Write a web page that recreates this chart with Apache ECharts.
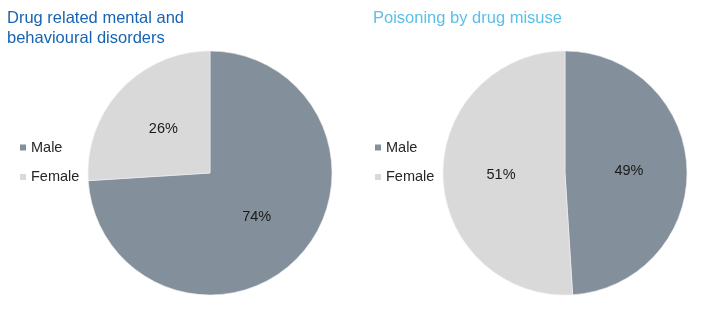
<!DOCTYPE html>
<html>
<head>
<meta charset="utf-8">
<script src="https://cdn.jsdelivr.net/npm/echarts@6/dist/echarts.min.js"></script>
<style>
  html, body { margin: 0; padding: 0; background: #fff; }
  #chart { width: 709px; height: 325px; }
</style>
</head>
<body>
<div id="chart"></div>
<script>
const categories = ['Male', 'Female']
const mentalValues = [74, 26]
const poisoningValues = [49, 51]
const titles = ['Drug related mental and\nbehavioural disorders', 'Poisoning by drug misuse']

const colors = ['#838f9a', '#d9d9d9']
const font = 'Arial, "Liberation Sans", sans-serif'

const chart = echarts.init(document.getElementById('chart'))

function pieSeries(name, vals, center) {
  return {
    name,
    type: 'pie',
    center,
    radius: 122,
    startAngle: 90,
    clockwise: true,
    avoidLabelOverlap: false,
    animation: false,
    data: categories.map((c, i) => ({ name: c, value: vals[i] })),
    itemStyle: { borderColor: '#eef0f2', borderWidth: 0.6 },
    label: {
      position: 'inside',
      formatter: (p) => p.value + '%',
      color: '#1a1a1a',
      fontSize: 14.5,
      fontFamily: font,
    },
    labelLine: { show: false },
    emphasis: { disabled: true },
  }
}

function legend(left) {
  return {
    orient: 'vertical',
    left,
    top: 135,
    icon: 'rect',
    itemWidth: 6,
    itemHeight: 6,
    itemGap: 14.5,
    selectedMode: false,
    data: categories,
    itemStyle: { borderWidth: 0 },
    textStyle: { color: '#262626', fontSize: 14.5, fontFamily: font },
  }
}

chart.setOption({
  backgroundColor: '#fff',
  color: colors,
  title: [
    {
      text: titles[0],
      left: 2,
      top: 3,
      textStyle: { color: '#1664b4', fontSize: 16.5, fontWeight: 'normal', fontFamily: font, lineHeight: 20 },
    },
    {
      text: titles[1],
      left: 368,
      top: 3,
      textStyle: { color: '#5bbfe8', fontSize: 16.5, fontWeight: 'normal', fontFamily: font, lineHeight: 20 },
    },
  ],
  legend: [legend(15), legend(370)],
  series: [
    pieSeries('Drug related mental and behavioural disorders', mentalValues, [210, 173]),
    pieSeries('Poisoning by drug misuse', poisoningValues, [565, 173]),
  ],
})
</script>
</body>
</html>
